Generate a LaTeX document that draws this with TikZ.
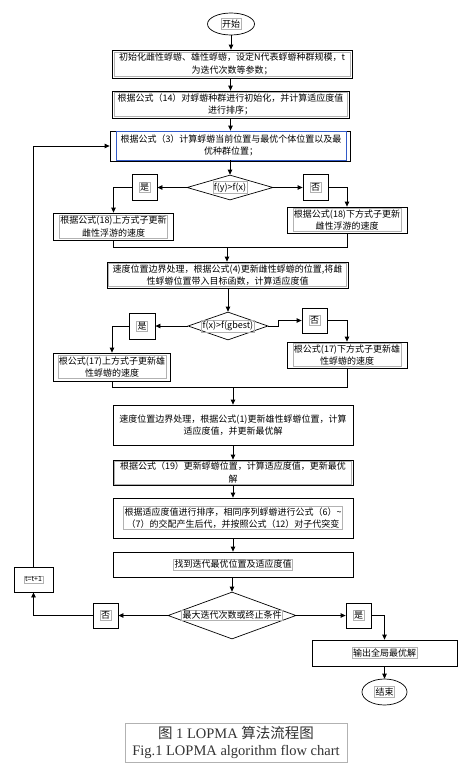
\documentclass[tikz,border=0pt]{standalone}
\usepackage{fontspec}
\setmainfont{Liberation Serif}
\newfontfamily\cjk{Noto Sans CJK SC}
\usetikzlibrary{shapes.geometric,arrows.meta,calc}
\definecolor{frameblue}{RGB}{50,90,200}
\begin{document}
\begin{tikzpicture}[x=1pt,y=-1pt,
  bx/.style={draw,line width=0.8pt,rectangle,inner sep=0pt},
  tf/.style={draw=gray!60,line width=0.6pt,inner sep=1.1pt,align=center,font=\cjk\fontsize{9}{12.5}\selectfont},
  dm/.style={draw,line width=0.7pt,diamond,inner sep=0pt},
  el/.style={draw,line width=0.7pt,ellipse,inner sep=0pt},
  ln/.style={line width=0.8pt},
  ar/.style={ln,-{Triangle[length=5pt,width=4.5pt]}}]
\useasboundingbox (0,0) rectangle (474,763);
\fill[white] (0,0) rectangle (474,763);

% nodes
\node[el,minimum width=47pt,minimum height=22pt] (start) at (231,24) {};
\node[tf] at (start) {开始};

\node[bx,minimum width=240pt,minimum height=28pt] (b1) at (232,64) {};
\node[tf,minimum width=236pt] at (b1) {初始化雌性蜉蝣、雄性蜉蝣，设定N代表蜉蝣种群规模，t\\为迭代次数等参数；};

\node[bx,minimum width=237pt,minimum height=27pt] (b2) at (230.5,104.5) {};
\node[tf,minimum width=233pt] at (b2) {根据公式（14）对蜉蝣种群进行初始化，并计算适应度值\\进行排序；};

\node[bx,minimum width=240pt,minimum height=30pt] (b3) at (230,146) {};
\node[draw=frameblue,line width=0.8pt,minimum width=230pt,minimum height=29pt,inner sep=0pt,fill=white] (b3f) at (231,145.5) {};
\node[tf,draw=none] at (b3f) {根据公式（3）计算蜉蝣当前位置与最优个体位置以及最\\优种群位置；};

\node[dm,minimum width=86pt,minimum height=25pt] (d1) at (230,187.5) {};
\node[tf] at (d1) {f(y)>f(x)};
\node[bx,minimum width=25pt,minimum height=26pt] (y1) at (144.5,187.5) {};
\node[tf] at (y1) {是};
\node[bx,minimum width=25pt,minimum height=26pt] (n1) at (315.5,187.5) {};
\node[tf] at (n1) {否};

\node[bx,minimum width=120pt,minimum height=27pt] (b4) at (113.5,226.5) {};
\node[tf] at (b4) {根据公式(18)上方式子更新\\雌性浮游的速度};
\node[bx,minimum width=120pt,minimum height=26pt] (b5) at (347,220) {};
\node[tf] at (b5) {根据公式(18)下方式子更新\\雌性浮游的速度};
\coordinate (m1) at (227,247);

\node[bx,minimum width=241pt,minimum height=26pt] (b6) at (227.5,275) {};
\node[tf,minimum width=238pt] at (b6) {速度位置边界处理，根据公式(4)更新雌性蜉蝣的位置,将雌\\性蜉蝣位置带入目标函数，计算适应度值};

\node[dm,minimum width=80pt,minimum height=28pt] (d2) at (228,326) {};
\node[tf] at (d2) {f(x)>f(gbest)};
\node[bx,minimum width=26pt,minimum height=26pt] (y2) at (142,326) {};
\node[tf] at (y2) {是};
\node[bx,minimum width=25pt,minimum height=25pt] (n2) at (314.5,320.5) {};
\node[tf] at (n2) {否};

\node[bx,minimum width=117pt,minimum height=28pt] (b7) at (112,367) {};
\node[tf] at (b7) {根公式(17)上方式子更新雄\\性蜉蝣的速度};
\node[bx,minimum width=120pt,minimum height=26pt] (b8) at (347,355) {};
\node[tf] at (b8) {根公式(17)下方式子更新雄\\性蜉蝣的速度};
\coordinate (m2) at (233,387);

\node[bx,minimum width=240pt,minimum height=40pt] (b9) at (233,425) {};
\node[tf,draw=none] at (b9) {速度位置边界处理，根据公式(1)更新雄性蜉蝣位置，计算\\适应度值，并更新最优解};

\node[bx,minimum width=240pt,minimum height=25pt] (b10) at (233,472.5) {};
\node[tf,minimum width=237pt] at (b10) {根据公式（19）更新蜉蝣位置，计算适应度值，更新最优\\解};

\node[bx,minimum width=240pt,minimum height=40pt] (b11) at (233,518) {};
\node[tf] at (b11) {根据适应度值进行排序，相同序列蜉蝣进行公式（6）\textasciitilde\\（7）的交配产生后代，并按照公式（12）对子代突变};

\node[bx,minimum width=240pt,minimum height=25pt] (b12) at (233,564.5) {};
\node[tf] at (b12) {找到迭代最优位置及适应度值};

\node[dm,minimum width=128pt,minimum height=47pt] (d3) at (232,615.5) {};
\node[tf] at (d3) {最大迭代次数或终止条件};
\node[bx,minimum width=25pt,minimum height=25pt] (n3) at (105.5,615.5) {};
\node[tf] at (n3) {否};
\node[bx,minimum width=39pt,minimum height=25pt] (t1) at (33.5,579.5) {};
\node[tf,font=\cjk\fontsize{7}{9}\selectfont] at (t1) {t=t+1};
\node[bx,minimum width=25pt,minimum height=25pt] (y3) at (358.5,615.5) {};
\node[tf] at (y3) {是};

\node[bx,minimum width=145pt,minimum height=26pt] (out) at (384.5,653) {};
\node[tf] at (out) {输出全局最优解};
\node[el,minimum width=45pt,minimum height=26pt] (end) at (384.5,692) {};
\node[tf] at (end) {结束};

\node[draw=gray!60,line width=0.8pt,minimum width=222pt,minimum height=39pt,inner sep=0pt,align=center,
  font=\fontsize{14.5}{16.5}\selectfont,text=black!80] (cap) at (236,742.5)
  {{\cjk 图} 1 LOPMA {\cjk 算法流程图}\\Fig.1 LOPMA algorithm flow chart};

% connectors
\draw[ar] (start.south) -- (start.south |- b1.north);
\draw[ar] (b1.south -| b2.north) -- (b2.north);
\draw[ar] (b2.south) -- (b2.south |- b3.north);
\draw[ar] (b3f.south -| d1.north) -- (d1.north);
\draw[ar] (d1.west) -- (y1.east);
\draw[ar] (d1.east) -- (n1.west);
\draw[ar] (y1.west) -| (b4.north);
\draw[ar] (n1.east) -| (b5.north);
\draw[ln] (b4.south) |- (m1);
\draw[ln] (b5.south) |- (m1);
\draw[ar] (m1) -- (m1 |- b6.north);
\draw[ar] (b6.south -| d2.north) -- (d2.north);
\draw[ar] (d2.west) -- (y2.east);
\draw[ar] (d2.east) -- ++(10,0) |- (n2.west);
\draw[ar] (y2.west) -| (b7.north);
\draw[ar] (n2.east) -| (b8.north);
\draw[ln] (b7.south) |- (m2);
\draw[ln] (b8.south) |- (m2);
\draw[ar] (m2) -- (m2 |- b9.north);
\draw[ar] (b9.south) -- (b10.north);
\draw[ar] (b10.south) -- (b11.north);
\draw[ar] (b11.south) -- (b12.north);
\draw[ar] (b12.south -| d3.north) -- (d3.north);
\draw[ar] (d3.west) -- (n3.east);
\draw[ar] (d3.east) -- (y3.west);
\draw[ar] (n3.west) -| (t1.south);
\draw[ar] (t1.north) |- (b3.west);
\draw[ar] (y3.east) -| (out.north);
\draw[ar] (out.south) -- (end.north);
\end{tikzpicture}
\end{document}
